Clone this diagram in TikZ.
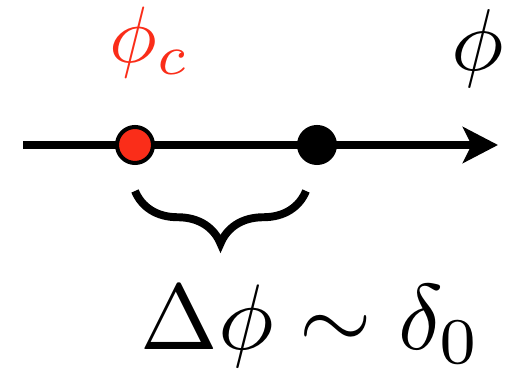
\documentclass[tikz,border=0pt]{standalone}
\usepackage{amsmath,amssymb}
\usepackage{tikz}
\usetikzlibrary{arrows.meta,decorations.pathreplacing}
\definecolor{critred}{RGB}{250,45,25}

\begin{document}
\begin{tikzpicture}[
  axis/.style={line width=4.5pt, -{Stealth[length=20pt, width=20.5pt, inset=5pt]}},
  dot/.style={circle, draw, line width=2.3pt, minimum size=0.72cm, inner sep=0pt},
  curly/.style={decorate, decoration={brace, mirror, amplitude=1.05cm}, line width=4.5pt},
  lbl/.style={inner sep=0pt, anchor=base west}
]
\useasboundingbox (0,0) rectangle (10.24,-7.46);

\coordinate (axisstart) at (0.46,-2.9);
\coordinate (axisend) at (9.96,-2.9);
\draw[axis] (axisstart) -- (axisend);

\node[dot, fill=critred] (crit) at (2.7,-2.9) {};
\node[dot, fill=black] (point) at (6.34,-2.9) {};

\node[lbl, text=critred, scale=4.55] (critlabel) at (2.16,-1.25) {$\phi_c$};
\node[lbl, scale=5.0] (fieldlabel) at (9.0,-1.42) {$\phi$};

\coordinate (braceleft) at (2.7,-3.82);
\coordinate (braceright) at (6.12,-3.82);
\draw[curly] (braceleft) -- (braceright);

\node[lbl, scale=5.3] (shift) at (2.78,-7.0) {$\Delta\phi\sim\delta_0$};
\end{tikzpicture}
\end{document}
